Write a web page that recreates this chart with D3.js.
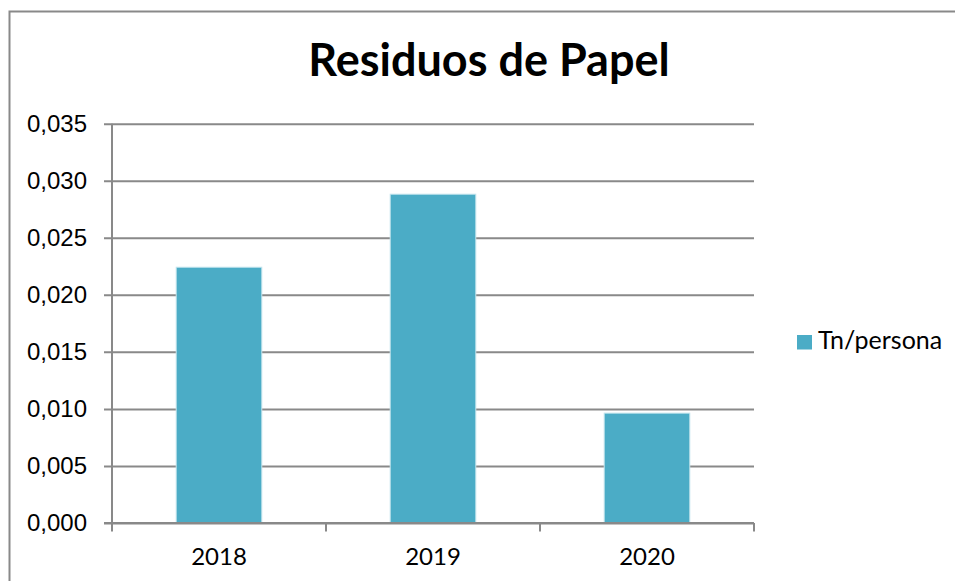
<!DOCTYPE html>
<html lang="es">
<head>
    <meta charset="utf-8">
    <title>Residuos de Papel</title>
    <script src="https://d3js.org/d3.v7.min.js"></script>
    <style>
        body { margin: 0; background: #fff; }
        svg { display: block; font-family: Lato, "Open Sans", sans-serif; }
        .tick-label { font-size: 24px; fill: #000; }
    </style>
</head>
<body>
    <svg id="chart" width="955" height="581"></svg>
    <script>
        // chart data
        var years = ["2018", "2019", "2020"];
        var values = [0.02242, 0.02882, 0.00963];
        var yTicks = [0, 0.005, 0.010, 0.015, 0.020, 0.025, 0.030, 0.035];
        var seriesName = "Tn/persona";
        var title = "Residuos de Papel";

        var svg = d3.select("#chart");
        var plot = { left: 112, right: 754, top: 123.7, bottom: 523 };
        var gridColor = "#898989";
        var barColor = "#4BACC6";

        // outer chart border
        svg.append("rect")
            .attr("x", 9.5).attr("y", 11.5)
            .attr("width", 1000).attr("height", 1000)
            .attr("fill", "none")
            .attr("stroke", gridColor)
            .attr("stroke-width", 2);

        var x = d3.scaleBand()
            .domain(years)
            .range([plot.left, plot.right])
            .paddingInner(0.6)
            .paddingOuter(0.3);

        var y = d3.scaleLinear()
            .domain([0, 0.035])
            .range([plot.bottom, plot.top]);

        var fmt = function(d) { return d3.format(".3f")(d).replace(".", ","); };

        // y axis with gridlines
        var yAxis = svg.append("g")
            .attr("transform", "translate(" + plot.left + ",0)")
            .call(d3.axisLeft(y)
                .tickValues(yTicks)
                .tickSize(-(plot.right - plot.left))
                .tickSizeOuter(0)
                .tickFormat(fmt)
                .tickPadding(25));
        yAxis.select(".domain").remove();
        yAxis.selectAll(".tick line")
            .attr("x1", -8)
            .attr("stroke", gridColor)
            .attr("stroke-width", 2);
        yAxis.selectAll(".tick text")
            .attr("class", "tick-label")
            .attr("font-family", null)
            .attr("font-size", null);

        // vertical axis line
        svg.append("line")
            .attr("x1", plot.left).attr("x2", plot.left)
            .attr("y1", plot.top).attr("y2", plot.bottom)
            .attr("stroke", gridColor)
            .attr("stroke-width", 2);

        // bars
        svg.append("g").selectAll("rect")
            .data(years)
            .join("rect")
            .attr("x", (d, i) => x(d))
            .attr("width", x.bandwidth())
            .attr("y", (d, i) => y(values[i]))
            .attr("height", (d, i) => y(0) - y(values[i]))
            .attr("fill", barColor)
            .attr("stroke", "#c2e4ed")
            .attr("stroke-width", 1);

        // x axis: category boundaries as ticks
        var bounds = years.map(d => x(d) - x.step() * x.paddingInner() / 2);
        bounds.push(plot.right);
        var xAxis = svg.append("g");
        xAxis.append("line")
            .attr("x1", plot.left - 8).attr("x2", plot.right)
            .attr("y1", plot.bottom).attr("y2", plot.bottom)
            .attr("stroke", gridColor)
            .attr("stroke-width", 2);
        xAxis.selectAll(".xtick")
            .data(bounds)
            .join("line")
            .attr("class", "xtick")
            .attr("x1", d => d).attr("x2", d => d)
            .attr("y1", plot.bottom).attr("y2", plot.bottom + 8.5)
            .attr("stroke", gridColor)
            .attr("stroke-width", 2);
        xAxis.selectAll("text")
            .data(years)
            .join("text")
            .attr("class", "tick-label")
            .attr("x", d => x(d) + x.bandwidth() / 2)
            .attr("y", 565)
            .attr("text-anchor", "middle")
            .text(d => d);

        // title
        svg.append("text")
            .attr("x", 489)
            .attr("y", 76)
            .attr("text-anchor", "middle")
            .attr("font-size", 45)
            .attr("font-weight", "bold")
            .text(title);

        // legend
        var legend = svg.append("g").attr("transform", "translate(797,335)");
        legend.append("rect")
            .attr("width", 15).attr("height", 14.5)
            .attr("fill", barColor);
        legend.append("text")
            .attr("x", 21)
            .attr("y", 14)
            .attr("font-size", 25)
            .text(seriesName);
    </script>
</body>
</html>
